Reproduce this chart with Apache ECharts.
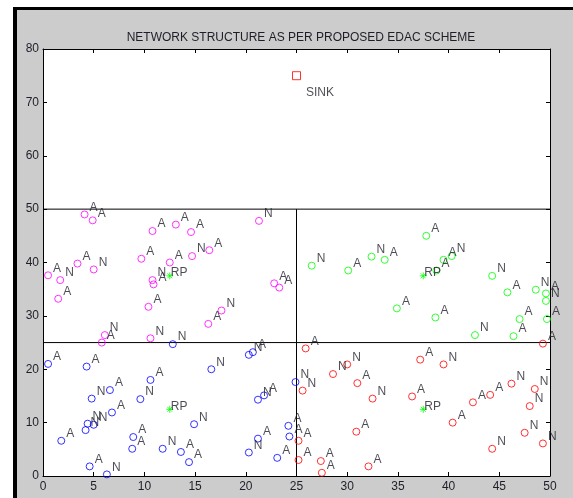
<!DOCTYPE html>
<html>
<head>
<meta charset="utf-8">
<script src="https://cdn.jsdelivr.net/npm/echarts@6/dist/echarts.min.js"></script>
<style>
    html, body { margin: 0; padding: 0; background: #fff; }
    #frame {
        position: absolute; left: 13px; top: 7px; width: 560px; height: 491px;
        border-left: 4px solid #000; border-top: 3px solid #000; background: #cccccc;
    }
    #main { position: absolute; left: 0; top: 0; width: 573px; height: 498px; }
</style>
</head>
<body>
<div id="frame"></div>
<div id="main"></div>
<script>
// cluster nodes: [x, y, tag]
const magentaNodes = [
    [4.1, 49.0, 'A'], [4.9, 47.9, 'A'], [10.8, 45.9, 'A'], [13.1, 47.1, 'A'], [14.6, 45.7, 'A'],
    [21.3, 47.8, 'N'], [0.5, 37.6, 'A'], [1.7, 36.7, 'N'], [3.4, 39.8, 'A'], [5.0, 38.7, 'N'],
    [1.5, 33.2, 'A'], [9.7, 40.7, 'A'], [12.5, 40.0, 'A'], [14.7, 41.2, 'N'], [16.4, 42.3, 'A'],
    [10.8, 36.7, 'N'], [10.9, 35.9, 'A'], [10.4, 31.7, 'A'], [16.3, 28.5, 'A'], [17.6, 31.0, 'N'],
    [22.8, 36.1, 'A'], [23.3, 35.3, 'A'], [6.1, 26.4, 'N'], [5.8, 25.0, 'A'], [10.6, 25.8, 'N']
]
const greenNodes = [
    [37.8, 45.0, 'A'], [32.4, 41.1, 'N'], [33.7, 40.5, 'A'], [26.5, 39.4, 'N'], [30.1, 38.5, 'A'],
    [39.5, 40.5, 'A'], [40.3, 41.2, 'N'], [38.8, 38.5, 'A'], [44.3, 37.5, 'N'], [45.8, 34.4, 'A'],
    [48.6, 34.9, 'N'], [49.6, 34.2, 'A'], [49.6, 32.8, 'N'], [34.9, 31.4, 'A'], [38.7, 29.7, 'A'],
    [47.0, 29.4, 'A'], [49.7, 29.4, 'A'], [42.6, 26.4, 'N'], [46.4, 26.2, 'A']
]
const blueNodes = [
    [12.8, 24.7, 'N'], [0.5, 21.0, 'A'], [4.3, 20.5, 'A'], [16.6, 20.0, 'N'], [20.3, 22.7, 'N'],
    [20.7, 23.2, 'A'], [10.6, 18.0, 'A'], [4.8, 14.5, 'N'], [6.6, 16.1, 'A'], [9.6, 14.4, 'N'],
    [6.8, 11.9, 'A'], [21.2, 14.3, 'N'], [21.8, 15.1, 'A'], [14.9, 9.7, 'N'], [4.4, 9.8, 'N'],
    [5.0, 9.6, 'N'], [4.2, 8.6, 'N'], [1.8, 6.6, 'A'], [8.9, 7.3, 'A'], [8.8, 5.1, 'A'],
    [11.8, 5.1, 'N'], [13.6, 4.5, 'A'], [14.4, 2.6, 'A'], [4.6, 1.8, 'A'], [6.3, 0.3, 'N'],
    [20.3, 4.4, 'N'], [21.2, 7.0, 'A'], [23.1, 3.4, 'A'], [24.9, 17.6, 'N'], [24.2, 9.4, 'A'],
    [24.3, 7.4, 'A']
]
const redNodes = [
    [49.3, 24.8, 'A'], [25.9, 23.9, 'A'], [28.6, 19.1, 'N'], [30.0, 20.9, 'N'], [37.2, 21.8, 'A'],
    [39.5, 20.9, 'N'], [25.6, 16.0, 'N'], [31.0, 17.4, 'A'], [32.5, 14.5, 'N'], [36.4, 14.9, 'A'],
    [40.4, 10.0, 'A'], [42.4, 13.8, 'A'], [44.1, 15.2, 'A'], [46.2, 17.3, 'N'], [48.5, 16.3, 'N'],
    [48.0, 13.1, 'N'], [47.5, 8.1, 'N'], [49.3, 6.1, 'N'], [44.3, 5.1, 'N'], [30.9, 8.3, 'A'],
    [25.2, 6.6, 'A'], [25.2, 3.0, 'A'], [27.4, 2.8, 'A'], [27.5, 0.6, 'A'], [32.1, 1.8, 'A']
]
const relayPoints = [[12.5, 37.5], [37.5, 37.5], [12.5, 12.5], [37.5, 12.5]]
const sinkPoint = [25, 75]
const xTicks = { min: 0, max: 50, interval: 5 }
const yTicks = { min: 0, max: 80, interval: 10 }
const splitX = 25
const splitY = [25, 50]

const font = '"Liberation Sans", Arial, sans-serif'
const chart = echarts.init(document.getElementById('main'), null, { renderer: 'canvas' })

function nodeSeries(data, color) {
    return {
        type: 'scatter',
        data: data,
        symbol: 'circle',
        symbolSize: 7,
        itemStyle: { color: 'transparent', borderColor: color, borderWidth: 1 },
        label: {
            show: true,
            formatter: p => p.data[2],
            position: 'right',
            distance: 1,
            offset: [0, -7],
            color: '#1e1e28',
            fontSize: 12,
            fontFamily: font
        },
        emphasis: { disabled: true },
        z: 3
    }
}

function axisX(pos) {
    return {
        type: 'value',
        position: pos,
        min: xTicks.min,
        max: xTicks.max,
        interval: xTicks.interval,
        axisLine: { show: true, onZero: false, lineStyle: { color: '#000', width: 1 } },
        axisTick: { show: true, inside: true, length: 4, lineStyle: { color: '#000' } },
        axisLabel: { show: pos === 'bottom', color: '#1e1e28', fontSize: 12, fontFamily: font, margin: 5 },
        splitLine: { show: false }
    }
}

function axisY(pos) {
    return {
        type: 'value',
        position: pos,
        min: yTicks.min,
        max: yTicks.max,
        interval: yTicks.interval,
        axisLine: { show: true, onZero: false, lineStyle: { color: '#000', width: 1 } },
        axisTick: { show: true, inside: true, length: 4, lineStyle: { color: '#000' } },
        axisLabel: { show: pos === 'left', color: '#1e1e28', fontSize: 12, fontFamily: font, margin: 4 },
        splitLine: { show: false }
    }
}

const dividerLine = data => ({
    type: 'line',
    data: data,
    symbol: 'none',
    lineStyle: { color: '#000', width: 1 },
    emphasis: { disabled: true },
    z: 2
})

chart.setOption({
    animation: false,
    backgroundColor: 'transparent',
    title: {
        text: 'NETWORK STRUCTURE AS PER PROPOSED EDAC SCHEME',
        left: 296,
        top: 27,
        textAlign: 'center',
        textStyle: { color: '#1e1e28', fontSize: 12, fontWeight: 'normal', fontFamily: font }
    },
    grid: {
        left: 43,
        right: 23,
        top: 49,
        bottom: 22,
        show: true,
        backgroundColor: '#fff',
        borderWidth: 0
    },
    xAxis: [axisX('bottom'), axisX('top')],
    yAxis: [axisY('left'), axisY('right')],
    series: [
        dividerLine([[xTicks.min, splitY[1]], [xTicks.max, splitY[1]]]),
        dividerLine([[xTicks.min, splitY[0]], [xTicks.max, splitY[0]]]),
        dividerLine([[splitX, yTicks.min], [splitX, splitY[1]]]),
        nodeSeries(magentaNodes, '#ff00ff'),
        nodeSeries(greenNodes, '#00ff00'),
        nodeSeries(blueNodes, '#0000ff'),
        nodeSeries(redNodes, '#ff0000'),
        {
            type: 'scatter',
            data: relayPoints,
            symbol: 'path://M0,-1L0,1M-1,0L1,0M-0.7,-0.7L0.7,0.7M-0.7,0.7L0.7,-0.7',
            symbolSize: 7,
            itemStyle: { color: 'transparent', borderColor: '#00ff00', borderWidth: 1 },
            label: {
                show: true,
                formatter: 'RP',
                position: 'right',
                distance: -3,
                offset: [0, -3],
                color: '#1e1e28',
                fontSize: 12,
                fontFamily: font
            },
            emphasis: { disabled: true },
            z: 4
        },
        {
            type: 'scatter',
            data: [sinkPoint],
            symbol: 'rect',
            symbolSize: 8,
            itemStyle: { color: 'transparent', borderColor: '#ff0000', borderWidth: 1 },
            label: {
                show: true,
                formatter: 'SINK',
                position: 'right',
                distance: 5,
                offset: [0, 17],
                color: '#1e1e28',
                fontSize: 12,
                fontFamily: font
            },
            emphasis: { disabled: true },
            z: 4
        }
    ]
})
</script>
</body>
</html>
